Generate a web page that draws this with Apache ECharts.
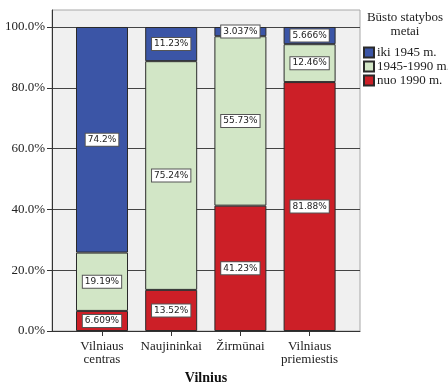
<!DOCTYPE html>
<html><head><meta charset="utf-8">
<script src="https://cdn.jsdelivr.net/npm/echarts@6/dist/echarts.min.js"></script>
<style>html,body{margin:0;padding:0;background:#fff}#c{width:448px;height:384px}</style>
</head><body><div id="c"></div>
<script>
const categories = ['Vilniaus\ncentras', 'Naujininkai', 'Žirmūnai', 'Vilniaus\npriemiestis'];
const seriesNames = ['iki 1945 m.', '1945-1990 m.', 'nuo 1990 m.'];
const iki1945 = [74.2, 11.23, 3.037, 5.666];
const s1945_1990 = [19.19, 75.24, 55.73, 12.46];
const nuo1990 = [6.609, 13.52, 41.23, 81.88];
const yTicks = [0, 20, 40, 60, 80, 100];
const colors = ['#3b55a6', '#d2e6c6', '#cc1f27'];
const legendTitle = 'Būsto statybos\nmetai';
const xName = 'Vilnius';

const serif = 'Liberation Serif';
const yMax = 105.59;
const mk = (name, vals, color) => ({
  name, type: 'bar', stack: 'all', barWidth: 52, xAxisIndex: 1, yAxisIndex: 1,
  data: vals,
  itemStyle: { color, borderColor: '#2a2a2a', borderWidth: 1 },
  label: {
    show: true, position: 'inside', formatter: p => p.value + '%',
    fontFamily: 'DejaVu Sans', fontSize: 9, color: '#222',
    backgroundColor: '#fff', borderColor: '#555', borderWidth: 1, padding: [2, 2, 1, 2]
  },
  emphasis: { disabled: true }
});
// stack order bottom to top: nuo1990, 1945-1990, iki1945
const series = [
  mk(seriesNames[2], nuo1990, colors[2]),
  mk(seriesNames[1], s1945_1990, colors[1]),
  mk(seriesNames[0], iki1945, colors[0])
];
const chart = echarts.init(document.getElementById('c'), null, { renderer: 'canvas' });
chart.setOption({
  animation: false,
  title: {
    text: legendTitle, left: 405, top: 11, padding: 0, textAlign: 'center',
    textStyle: { fontFamily: serif, fontSize: 13, fontWeight: 'normal', color: '#222', lineHeight: 14 }
  },
  legend: {
    data: seriesNames, orient: 'vertical', left: 363, top: 46, itemGap: 1, padding: 0,
    itemWidth: 10, itemHeight: 10, icon: 'rect',
    textStyle: { fontFamily: serif, fontSize: 13, color: '#222', padding: [0, 0, 0, -2] }
  },
  grid: [
    { left: 52, top: 10, width: 308, height: 321, outerBoundsMode: 'none', containLabel: false, backgroundColor: '#f0f0f0', show: true, borderColor: '#a8a8a8', borderWidth: 1 },
    { left: 67.4, top: 10, width: 276.8, height: 321, outerBoundsMode: 'none', containLabel: false }
  ],
  xAxis: [{
    gridIndex: 0, type: 'value', min: 0, max: 1,
    name: xName, nameLocation: 'middle', nameGap: 40,
    nameTextStyle: { fontFamily: serif, fontSize: 14, fontWeight: 'bold', color: '#111' },
    axisLine: { show: true, onZero: false, lineStyle: { color: '#333' } },
    axisTick: { show: false }, axisLabel: { show: false }, splitLine: { show: false }
  }, {
    gridIndex: 1, type: 'category', data: categories,
    axisLine: { show: false },
    axisTick: { show: true, alignWithLabel: true, length: 5, lineStyle: { color: '#333' } },
    axisLabel: { interval: 0, hideOverlap: false, fontFamily: serif, fontSize: 13, color: '#222', lineHeight: 13, margin: 9 },
    splitLine: { show: false }
  }],
  yAxis: [{
    gridIndex: 0, type: 'value', min: 0, max: yMax, interval: 20,
    axisLine: { show: true, onZero: false, lineStyle: { color: '#333' } },
    axisTick: { show: true, length: 5, customValues: yTicks, lineStyle: { color: '#333' } },
    axisLabel: { customValues: yTicks, formatter: v => v.toFixed(1) + '%', fontFamily: serif, fontSize: 13, color: '#222', margin: 7 },
    splitLine: { show: true, lineStyle: { color: '#444', width: 1 } }
  }, {
    gridIndex: 1, type: 'value', min: 0, max: yMax, show: false, splitLine: { show: false }
  }],
  series
});
</script></body></html>
